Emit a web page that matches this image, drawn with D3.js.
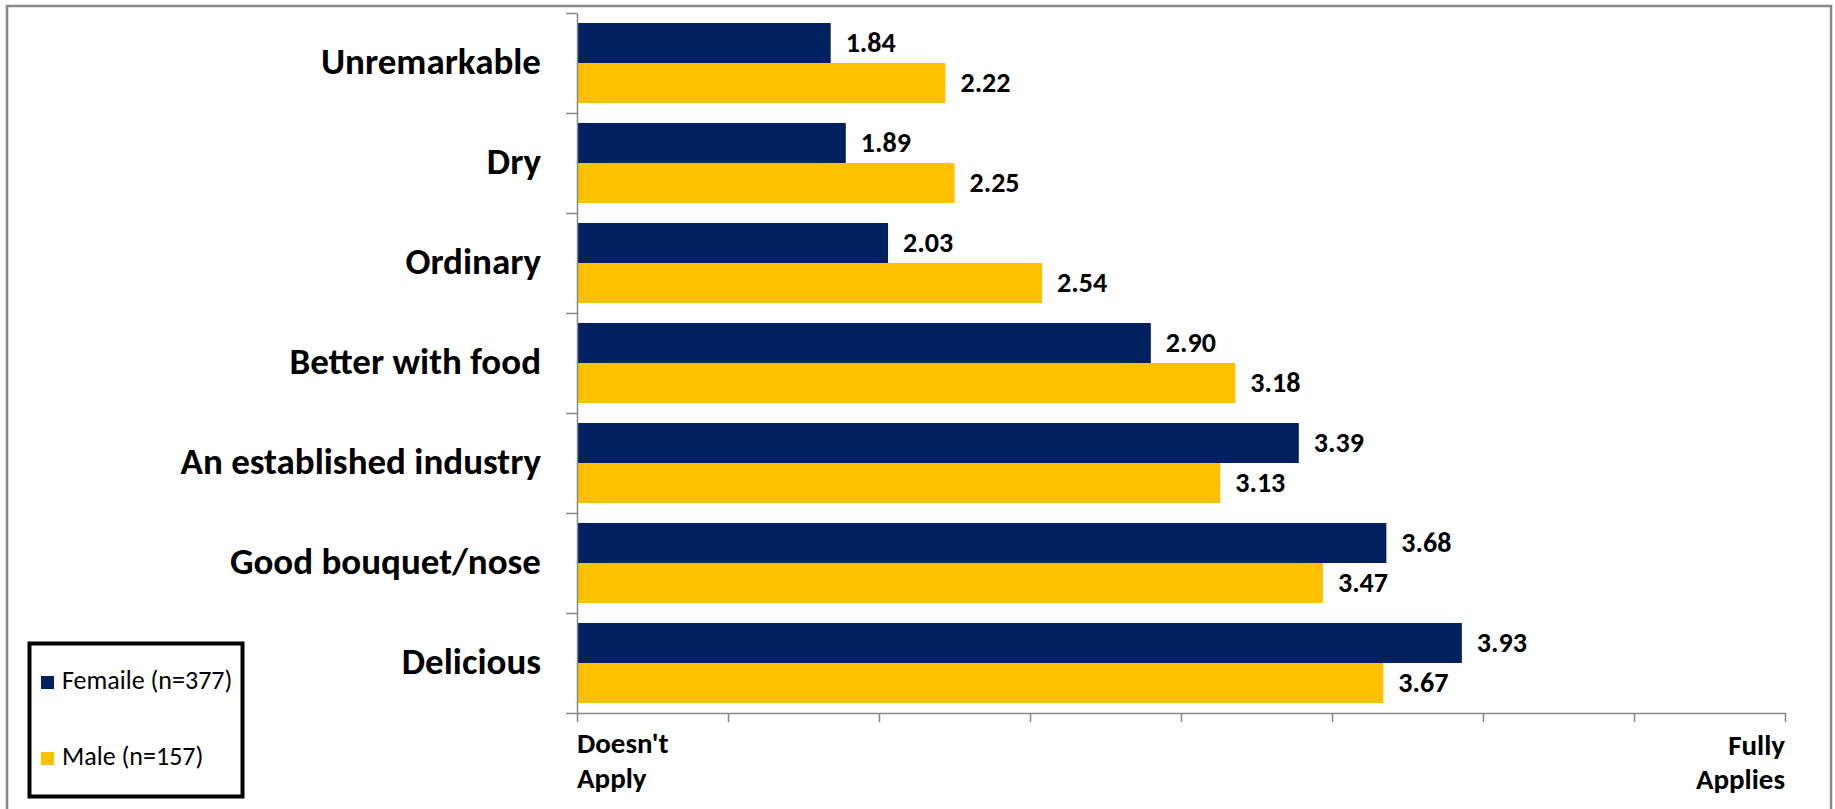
<!DOCTYPE html>
<html>
<head>
<meta charset="utf-8">
<script src="https://cdn.jsdelivr.net/npm/d3@7/dist/d3.min.js"></script>
<style>
  html, body { margin: 0; padding: 0; background: #fff; }
  svg { display: block; }
  text { font-family: Carlito, Calibri, Lato, "Liberation Sans", sans-serif; fill: #000; }
</style>
</head>
<body>
<svg id="chart" width="1835" height="809"></svg>
<script>
// ---- data ----
const categories = ["Unremarkable", "Dry", "Ordinary", "Better with food", "An established industry", "Good bouquet/nose", "Delicious"];
const seriesNames = ["Femaile (n=377)", "Male (n=157)"];
const femaleValues = [1.84, 1.89, 2.03, 2.90, 3.39, 3.68, 3.93];
const maleValues = [2.22, 2.25, 2.54, 3.18, 3.13, 3.47, 3.67];
const xTickValues = [1, 1.5, 2, 2.5, 3, 3.5, 4, 4.5, 5];
const xEndLabelsLeft = ["Doesn't", "Apply"];
const xEndLabelsRight = ["Fully", "Applies"];
const colors = ["#002060", "#FFC000"];

(function () {
const svg = d3.select("#chart");

// outer chart border
svg.append("rect")
  .attr("x", 7).attr("y", 6)
  .attr("width", 1824).attr("height", 810)
  .attr("fill", "#fff")
  .attr("stroke", "#898989").attr("stroke-width", 2.5);

const pLeft = 577, pRight = 1785, pTop = 13, pBottom = 713;

const x = d3.scaleLinear().domain([1, 5]).range([pLeft, pRight]);
const y = d3.scaleBand().domain(categories).range([pTop, pBottom]).paddingInner(0.2).paddingOuter(0.1);
const ySub = d3.scaleBand().domain(seriesNames).range([0, y.bandwidth()]);
const yBound = d3.scaleLinear().domain([0, categories.length]).range([pTop, pBottom]);

const rows = categories.map((c, i) => ({ cat: c, vals: [femaleValues[i], maleValues[i]] }));

// bars
const g = svg.append("g");
rows.forEach(r => {
  r.vals.forEach((v, s) => {
    const yy = y(r.cat) + ySub(seriesNames[s]);
    g.append("rect")
      .attr("x", x(1)).attr("y", yy)
      .attr("width", x(v) - x(1)).attr("height", ySub.bandwidth())
      .attr("fill", colors[s]);
    g.append("text")
      .attr("x", x(v) + 15).attr("y", yy + ySub.bandwidth() / 2)
      .attr("dy", "0.33em")
      .attr("font-size", 28).attr("font-weight", "bold")
      .text(v.toFixed(2));
  });
});

// y axis (ticks between categories)
const yAxis = d3.axisLeft(yBound).tickValues(d3.range(0, categories.length + 1)).tickSize(11).tickSizeOuter(0).tickFormat("");
const yg = svg.append("g").attr("transform", `translate(${pLeft},0)`).call(yAxis);
yg.selectAll("path, line").attr("stroke", "#868686").attr("stroke-width", 1.5);

// x axis
const xAxis = d3.axisBottom(x).tickValues(xTickValues).tickSize(9).tickSizeOuter(0).tickFormat("");
const xg = svg.append("g").attr("transform", `translate(0,${pBottom})`).call(xAxis);
xg.selectAll("path, line").attr("stroke", "#868686").attr("stroke-width", 1.5);

// category labels
svg.append("g").selectAll("text").data(categories).join("text")
  .attr("x", 541).attr("y", d => y(d) + y.bandwidth() / 2)
  .attr("dy", "0.3em")
  .attr("text-anchor", "end")
  .attr("font-size", 37).attr("font-weight", "bold")
  .text(d => d);

// x end labels
xEndLabelsLeft.forEach((t, i) => {
  svg.append("text").attr("x", x(1)).attr("y", 753 + i * 35)
    .attr("font-size", 29).attr("font-weight", "bold").text(t);
});
xEndLabelsRight.forEach((t, i) => {
  svg.append("text").attr("x", x(5)).attr("y", 755 + i * 34)
    .attr("text-anchor", "end")
    .attr("font-size", 29).attr("font-weight", "bold").text(t);
});

// legend
const lg = svg.append("g");
lg.append("rect").attr("x", 29.5).attr("y", 643.5).attr("width", 213).attr("height", 153)
  .attr("fill", "#fff").attr("stroke", "#000").attr("stroke-width", 4);
seriesNames.forEach((n, i) => {
  const by = 676 + i * 76;
  lg.append("rect").attr("x", 41).attr("y", by).attr("width", 13).attr("height", 13).attr("fill", colors[i]);
  lg.append("text").attr("x", 62).attr("y", by + 13).attr("font-size", 26).text(n);
});
})();
</script>
</body>
</html>
